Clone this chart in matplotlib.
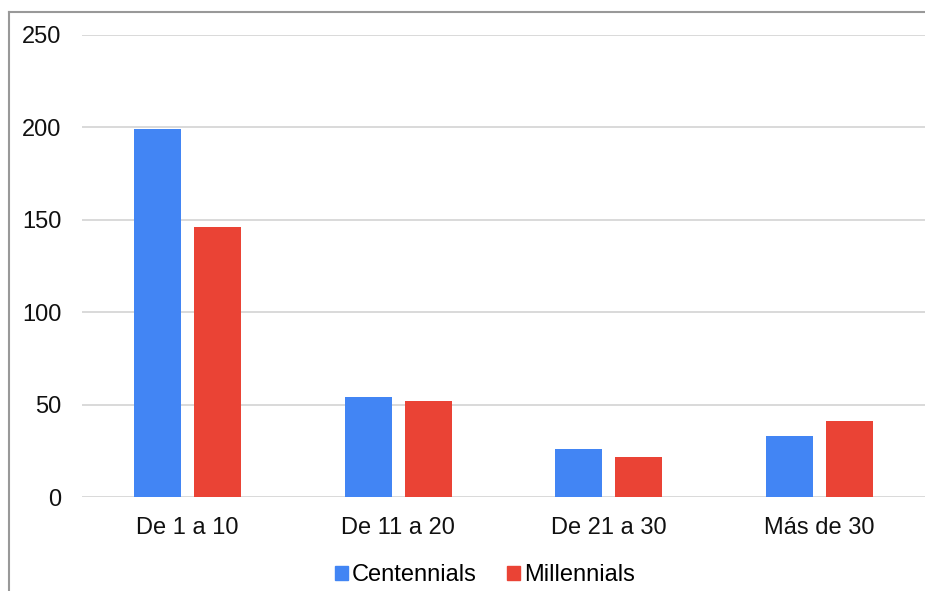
import numpy as np
import matplotlib
matplotlib.use('Agg')
import matplotlib.pyplot as plt
from matplotlib.patches import Patch
from matplotlib.lines import Line2D

plt.rcParams['font.family'] = ['Liberation Sans', 'DejaVu Sans']

categories = ['De 1 a 10', 'De 11 a 20', 'De 21 a 30', 'Más de 30']
centennials = [199, 54, 26, 33]
millennials = [146, 52, 22, 41]
series_names = ['Centennials', 'Millennials']
yticks = [0, 50, 100, 150, 200, 250]

blue = '#4285F4'
red = '#EA4335'

fig = plt.figure(figsize=(9.25, 5.91), dpi=100)
ax = fig.add_axes([82/925, 1-497.3/591, 1-82/925, (497.3-34.7)/591])

x = np.arange(len(categories))
w = 0.223
ax.bar(x - 0.142, centennials, width=w, color=blue, zorder=3)
ax.bar(x + 0.142, millennials, width=w, color=red, zorder=3)

ax.set_xlim(-0.5, len(categories) - 0.5)
ax.set_ylim(0, 250)
ax.set_yticks(yticks)
ax.set_yticklabels([str(t) for t in yticks])
ax.set_xticks(x)
ax.set_xticklabels(categories)
ax.tick_params(axis='both', length=0, labelsize=17, colors='#111111')
ax.tick_params(axis='y', pad=15)
ax.tick_params(axis='x', pad=14)
ax.grid(axis='y', color='#d9d9d9', lw=1.4, zorder=0)
for s in ax.spines.values():
    s.set_visible(False)
ax.set_clip_on(False)

# outer frame (left and top edges visible)
fig.add_artist(Line2D([9/925, 9/925], [0, 1-12/591], color='#999999', lw=1.5))
fig.add_artist(Line2D([9/925, 1], [1-12/591, 1-12/591], color='#999999', lw=1.5))

handles = [Patch(color=blue), Patch(color=red)]
fig.legend(handles, series_names, loc='center', bbox_to_anchor=(485/925, 1-575/591),
           ncol=2, frameon=False, fontsize=17, handlelength=0.55, handleheight=0.55,
           handletextpad=0.15, columnspacing=1.3)

fig.savefig('out.png', dpi=100)
